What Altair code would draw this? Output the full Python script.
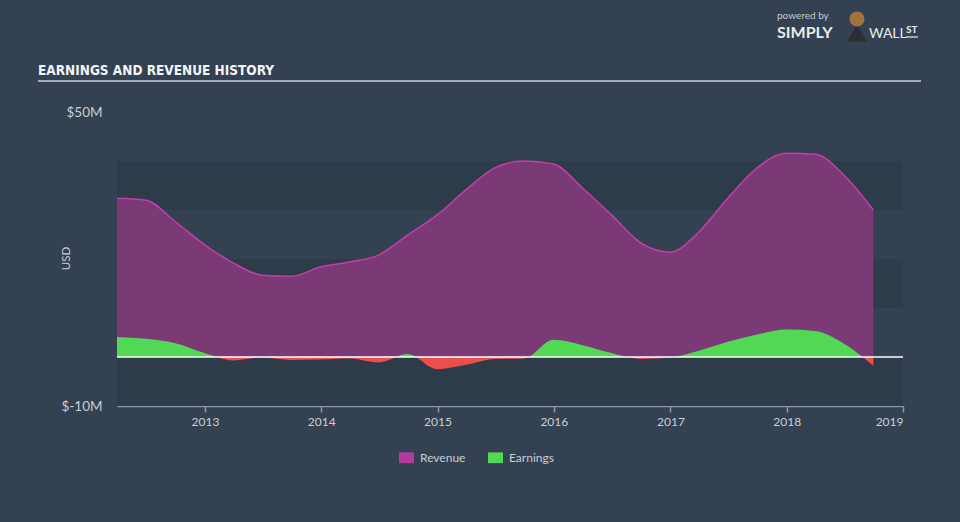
import altair as alt
import pandas as pd

# ---------------- data ----------------
dates = [
    "2012-03-31", "2012-06-30", "2012-09-30", "2012-12-31",
    "2013-03-31", "2013-06-30", "2013-09-30", "2013-12-31",
    "2014-03-31", "2014-06-30", "2014-09-30", "2014-12-31",
    "2015-03-31", "2015-06-30", "2015-09-30", "2015-12-31",
    "2016-03-31", "2016-06-30", "2016-09-30", "2016-12-31",
    "2017-03-31", "2017-06-30", "2017-09-30", "2017-12-31",
    "2018-03-31", "2018-06-30", "2018-09-30",
]
revenue = [
    32.4, 32.0, 27.6, 22.9,
    19.2, 16.7, 16.5, 18.4,
    19.4, 20.8, 24.9, 29.0,
    34.1, 38.6, 40.0, 39.4,
    34.5, 29.0, 23.3, 21.4,
    25.5, 32.4, 38.6, 41.6,
    41.4, 37.1, 30.0,
]
earnings = [
    4.1, 3.7, 2.8, 0.8,
    -0.7, -0.1, -0.6, -0.5,
    -0.3, -1.1, 0.6, -2.5,
    -1.6, -0.4, -0.3, 3.5,
    2.4, 0.8, -0.4, -0.1,
    1.3, 3.1, 4.6, 5.6,
    5.3, 2.7, -1.8,
]
year_ticks = [2013, 2014, 2015, 2016, 2017, 2018, 2019]
y_ticks = [-10, 50]
band_lo = [30, 10, -10]
band_hi = [40, 20, 0]
series = ["Revenue", "Earnings"]
series_colors = ["#b13c9b", "#52d854"]

# ---------------- style ----------------
BG = "#344152"
BAND = "#2e3b4a"
REV_FILL = "#7b3a76"
REV_LINE = "#c23fa8"
GREEN = "#52d854"
RED = "#e9504c"
TXT = "#c9ced4"
W, H = 786, 294

df = pd.DataFrame({"date": dates, "revenue": revenue, "earnings": earnings})
bands = pd.DataFrame({"lo": band_lo, "hi": band_hi})
one = pd.DataFrame({"a": [0]})

xscale = alt.Scale(domain=[alt.DateTime(year=2012, month=3, date=31),
                           alt.DateTime(year=2019, month=1, date=1)])
yscale = alt.Scale(domain=[-10, 50], nice=False, zero=False)

xaxis = alt.Axis(
    values=[alt.DateTime(year=y, month=1, date=1) for y in year_ticks],
    format="%Y", grid=False, domainColor="#8c97a5", domainWidth=1.5,
    tickColor="#8c97a5", tickSize=6, tickWidth=1.5, labelColor=TXT,
    labelFontSize=12, labelFont="Lato", labelPadding=4, title=None,
)
yaxis = alt.Axis(
    values=y_ticks, labelExpr="'$' + datum.value + 'M'", domain=False,
    ticks=False, grid=False, labelPadding=15, labelColor=TXT,
    labelFontSize=13.5, labelFont="Lato", title="USD", titleColor=TXT,
    titleFontSize=11.5, titleFont="Lato", titleFontWeight="normal",
    titleX=-51, titleY=146, titleAngle=270, titleAlign="center",
    titleBaseline="middle",
)

band_layer = alt.Chart(bands).mark_rect(color=BAND).encode(
    x=alt.value(0), x2=alt.value(W),
    y=alt.Y("lo:Q", scale=yscale, axis=yaxis), y2="hi:Q",
)

base = alt.Chart(df).encode(x=alt.X("date:T", scale=xscale, axis=xaxis))

rev_layer = base.mark_area(
    interpolate="monotone", color=REV_FILL, opacity=1,
    line={"color": REV_LINE, "strokeWidth": 1.5},
).encode(y=alt.Y("revenue:Q", scale=yscale), y2=alt.datum(0))

emax, emin = max(earnings), min(earnings)
off = emax / (emax - emin)
grad = alt.LinearGradient(
    gradient="linear", x1=0, y1=0, x2=0, y2=1,
    stops=[
        alt.GradientStop(offset=0, color=GREEN),
        alt.GradientStop(offset=off, color=GREEN),
        alt.GradientStop(offset=off, color=RED),
        alt.GradientStop(offset=1, color=RED),
    ],
)
earn_layer = base.mark_area(interpolate="monotone", color=grad, opacity=1).encode(
    y=alt.Y("earnings:Q", scale=yscale), y2=alt.datum(0)
)

zero_layer = alt.Chart(one).mark_rule(color="#ffffff", strokeWidth=1.5).encode(
    y=alt.datum(0)
)

legend_layer = alt.Chart(pd.DataFrame({"series": series})).mark_point(
    opacity=0, filled=True
).encode(
    color=alt.Color(
        "series:N",
        scale=alt.Scale(domain=series, range=series_colors),
        legend=alt.Legend(
            orient="none", legendX=282, legendY=338, direction="horizontal",
            title=None, symbolType="M-1,-0.72H1V0.72H-1Z", symbolSize=225,
            symbolOpacity=1, symbolStrokeWidth=0, labelColor=TXT,
            labelFontSize=12, labelFont="Lato", labelOffset=6,
            columnPadding=22, padding=0,
        ),
    )
)

# ---------------- decorations ----------------
title_layer = alt.Chart(one).mark_text(
    text="EARNINGS AND REVENUE HISTORY",
    font="'Liberation Sans Narrow', 'DejaVu Sans Condensed', Roboto, sans-serif",
    fontWeight="bold", fontSize=13.5, color="#f2f4f6", align="left",
    baseline="alphabetic",
).encode(x=alt.value(-79), y=alt.value(-37))

title_rule = alt.Chart(one).mark_rule(color="#a3abb4", strokeWidth=2).encode(
    x=alt.value(-79), x2=alt.value(804), y=alt.value(-31)
)

powered = alt.Chart(one).mark_text(
    text="powered by", font="Lato", fontSize=10, color="#c3c8ce", align="left",
    baseline="alphabetic",
).encode(x=alt.value(660), y=alt.value(-93))
simply = alt.Chart(one).mark_text(
    text="SIMPLY", font="Lato", fontWeight="bold", fontSize=16,
    color="#e8ebee", align="left", baseline="alphabetic",
).encode(x=alt.value(660), y=alt.value(-74))
wall = alt.Chart(one).mark_text(
    text="WALL", font="Lato", fontSize=14, color="#e8ebee", align="left",
    baseline="alphabetic",
).encode(x=alt.value(752), y=alt.value(-74))
st = alt.Chart(one).mark_text(
    text="ST", font="Lato", fontWeight="bold", fontSize=10, color="#e8ebee",
    align="left", baseline="alphabetic",
).encode(x=alt.value(789), y=alt.value(-79))
st_rule = alt.Chart(one).mark_rule(color="#e8ebee", strokeWidth=1.2).encode(
    x=alt.value(789), x2=alt.value(801), y=alt.value(-75)
)
body = alt.Chart(one).mark_point(
    shape="triangle-up", size=380, filled=True, color="#2a2e35", opacity=1
).encode(x=alt.value(740), y=alt.value(-79))
head = alt.Chart(one).mark_point(
    shape="circle", size=230, filled=True, color="#a0733a", opacity=1
).encode(x=alt.value(740), y=alt.value(-93))

chart = alt.layer(
    band_layer, rev_layer, earn_layer, zero_layer, legend_layer,
    title_layer, title_rule, powered, simply, wall, st, st_rule, body, head,
).properties(
    width=W, height=H,
    background=BG,
    padding={"left": 117, "top": 112, "right": 57, "bottom": 116},
    autosize=alt.AutoSizeParams(type="none"),
).configure_view(stroke=None)

chart.save("out.html", embed_options={"renderer": "svg", "actions": False})
